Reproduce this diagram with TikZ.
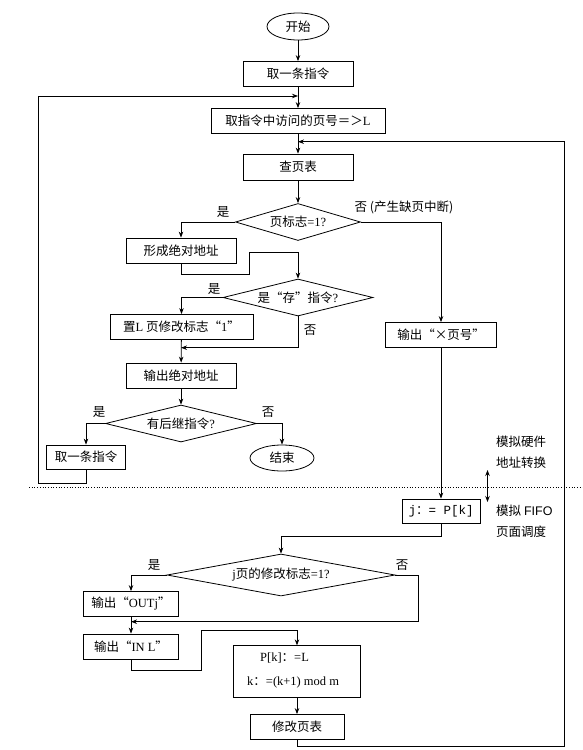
\documentclass[tikz,border=0pt]{standalone}
\usepackage{fontspec}
\setmainfont{Noto Sans CJK SC}
\newfontfamily\lat{Liberation Serif}
\newfontfamily\mono{Liberation Mono}
\newfontfamily\sansl{Liberation Sans}
\usetikzlibrary{shapes.geometric,arrows.meta}
\tikzset{
  txt/.style={font=\fontsize{12.5}{14}\selectfont},
  proc/.style={draw, line width=0.8pt, inner sep=0pt, txt},
  dec/.style={draw, diamond, line width=0.8pt, inner sep=0pt, txt},
  term/.style={draw, ellipse, line width=0.8pt, inner sep=0pt, txt},
  lbl/.style={inner sep=0pt, txt},
  conn/.style={line width=0.8pt, -{Stealth[length=6pt,width=4.5pt]}},
  wire/.style={line width=0.8pt}
}
\begin{document}
\begin{tikzpicture}[x=1pt,y=-1pt]
\useasboundingbox (0,0) rectangle (583,750);
% nodes
\node[term, minimum width=62pt, minimum height=27pt] (start) at (298,26.5) {开始};
\node[proc, minimum width=110pt, minimum height=25pt] (b1) at (298,74) {取一条指令};
\node[proc, minimum width=174pt, minimum height=25pt] (b2) at (298,121) {取指令中访问的页号＝＞{\lat L}};
\node[proc, minimum width=110pt, minimum height=26pt] (b3) at (298,167) {查页表};
\node[dec, aspect=3.4, minimum width=125pt, minimum height=37pt] (d1) at (298,222) {页标志{\lat =1?}};
\node[lbl] (y1) at (223,212) {是};
\node[lbl] (n1) at (404,207) {否 (产生缺页中断)};
\node[proc, minimum width=110pt, minimum height=25pt] (b4) at (181,250.5) {形成绝对地址};
\node[dec, aspect=4.05, minimum width=150pt, minimum height=37pt] (d2) at (298,297.5) {是“存”指令{\lat ?}};
\node[lbl] (y2) at (214,289) {是};
\node[lbl] (n2) at (310,330) {否};
\node[proc, minimum width=143pt, minimum height=25pt] (b5) at (181.5,327) {置{\lat L} 页修改标志“{\lat 1}”};
\node[proc, minimum width=110pt, minimum height=25pt] (b6) at (181,375.5) {输出绝对地址};
\node[dec, aspect=4.08, minimum width=151pt, minimum height=37pt] (d3) at (181,423.5) {有后继指令{\lat ?}};
\node[lbl] (y3) at (99,412) {是};
\node[lbl] (n3) at (268,412) {否};
\node[proc, minimum width=79pt, minimum height=24pt] (b7) at (86,457) {取一条指令};
\node[term, minimum width=64pt, minimum height=26pt] (end) at (282,458) {结束};
\node[proc, minimum width=111pt, minimum height=25pt] (b8) at (441,335) {输出“×页号”};
\node[proc, minimum width=78pt, minimum height=24pt] (bj) at (441,511) {{\mono j}：{\mono = P[k]}};
\node[dec, aspect=5.43, minimum width=228pt, minimum height=42pt] (d4) at (281,575) {{\lat j}页的修改标志{\lat =1?}};
\node[lbl] (y4) at (154,565) {是};
\node[lbl] (n4) at (402,565) {否};
\node[proc, minimum width=95pt, minimum height=25pt] (b9) at (131,604) {输出“{\lat OUTj}”};
\node[proc, minimum width=95pt, minimum height=25pt] (b10) at (131,646.5) {输出“{\lat IN L}”};
\node[proc, minimum width=127pt, minimum height=51.5pt] (b11) at (297,671.5) {};
\node[lbl, anchor=west] (t11a) at (260,658) {{\lat P[k]}：{\lat =L}};
\node[lbl, anchor=west] (t11b) at (247,682) {{\lat k}：{\lat =(k+1) mod m}};
\node[proc, minimum width=94pt, minimum height=25pt] (b12) at (297,727) {修改页表};
\node[lbl, anchor=west] (s1) at (496,441.5) {模拟硬件};
\node[lbl, anchor=west] (s2) at (496,463) {地址转换};
\node[lbl, anchor=west] (s3) at (496,511) {模拟 {\sansl FIFO}};
\node[lbl, anchor=west] (s4) at (496,532) {页面调度};
% coordinates
\coordinate (loopL) at (298,96);
\coordinate (loopR) at (298,141.7);
\coordinate (j1) at (181,347.7);
\coordinate (j2) at (131,621.7);
\coordinate (ha) at (487.5,470);
\coordinate (hb) at (487.5,502);
\coordinate (dl) at (29,487);
\coordinate (dr) at (583,487);
% connectors
\draw[conn] (start) -- (b1);
\draw[conn] (b1) -- (b2);
\draw[conn] (b7.south) -- (86,483) -- (38.5,483) -- (38.5,96) -- (loopL);
\draw[conn] (b2) -- (b3);
\draw[conn] (b3) -- (d1);
\draw[conn] (d1.west) -| (b4.north);
\draw[conn] (d1.east) -| (b8.north);
\draw[conn] (b4.south) -- (181,274) -- (249.6,274) -- (249.6,252) -- (298,252) -- (d2.north);
\draw[conn] (d2.west) -| (b5.north);
\draw[conn] (d2.south) |- (j1);
\draw[conn] (b5) -- (b6);
\draw[conn] (b6) -- (d3);
\draw[conn] (d3.west) -| (b7.north);
\draw[conn] (d3.east) -| (end.north);
\draw[conn] (b8) -- (bj);
\draw[conn] (bj.south) -- (441,536) -- (281,536) -- (d4.north);
\draw[conn] (d4.west) -| (b9.north);
\draw[conn] (d4.east) -- (418,575) -- (418,621.7) -- (j2);
\draw[conn] (b9) -- (b10);
\draw[conn] (b10.south) -- (131,670) -- (201,670) -- (201,630) -- (297,630) -- (b11.north);
\draw[conn] (b11) -- (b12);
\draw[conn] (b12.south) -- (297,746.7) -- (564,746.7) -- (564,141.7) -- (loopR);
\draw[line width=0.8pt, {Stealth[length=6pt,width=4.5pt]}-{Stealth[length=6pt,width=4.5pt]}] (ha) -- (hb);
\draw[dotted, line width=0.7pt] (dl) -- (dr);
\end{tikzpicture}
\end{document}
